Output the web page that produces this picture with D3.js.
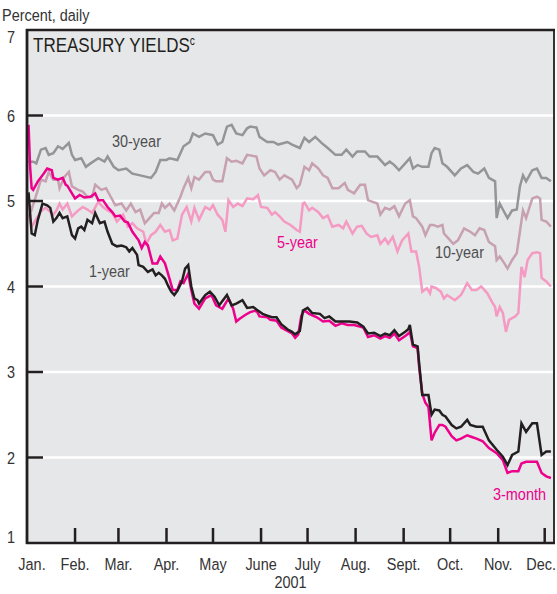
<!DOCTYPE html>
<html lang="en">
<head>
  <meta charset="UTF-8">
  <title>Treasury Yields 2001</title>
  <style>
    body {
      margin: 0;
      padding: 0;
      background-color: #ffffff;
    }

    svg text {
      font-family: "Liberation Sans", Arial, Helvetica, sans-serif;
      fill: #333333;
    }
  </style>
</head>
<body>

<svg width="557" height="594"></svg>

<script src="https://d3js.org/d3.v7.min.js"></script>
<script>
  const width = 557, height = 594;

  // Axis labels
  const monthLabels = ["Jan.", "Feb.", "Mar.", "Apr.", "May", "June", "July", "Aug.", "Sept.", "Oct.", "Nov.", "Dec."];
  const yTicks = [1, 2, 3, 4, 5, 6, 7];

  // Daily yields, percent
  const thirtyYear = [
    ["01-02",5.46],["01-05",5.46],["01-07",5.44],["01-10",5.60],["01-13",5.62],["01-15",5.54],["01-18",5.56],["01-21",5.64],["01-24",5.61],["01-28",5.68],["01-30",5.54],
    ["02-01",5.48],["02-05",5.50],["02-08",5.40],["02-11",5.44],["02-16",5.50],["02-20",5.46],["02-22",5.52],["02-26",5.40],
    ["03-01",5.36],["03-06",5.38],["03-10",5.32],["03-15",5.30],["03-22",5.27],["03-25",5.34],["03-28",5.48],
    ["04-01",5.48],["04-03",5.50],["04-08",5.48],["04-12",5.64],["04-16",5.69],["04-18",5.79],["04-22",5.75],["04-26",5.79],
    ["05-01",5.77],["05-04",5.66],["05-07",5.69],["05-10",5.87],["05-13",5.89],["05-16",5.79],["05-20",5.77],["05-23",5.85],["05-25",5.87],["05-29",5.86],["05-31",5.75],
    ["06-05",5.69],["06-09",5.69],["06-12",5.66],["06-18",5.69],["06-21",5.66],["06-26",5.62],["06-29",5.74],
    ["07-02",5.69],["07-06",5.75],["07-10",5.68],["07-14",5.62],["07-19",5.54],["07-23",5.54],["07-26",5.60],["07-30",5.52],
    ["08-02",5.58],["08-07",5.58],["08-10",5.52],["08-15",5.52],["08-18",5.46],["08-20",5.42],["08-23",5.46],["08-26",5.42],["08-29",5.36],
    ["09-02",5.44],["09-05",5.50],["09-07",5.38],["09-10",5.42],["09-13",5.40],["09-17",5.40],["09-19",5.56],["09-21",5.62],["09-24",5.60],["09-26",5.44],["09-29",5.40],
    ["10-04",5.30],["10-08",5.38],["10-12",5.42],["10-16",5.34],["10-19",5.32],["10-23",5.38],["10-26",5.27],["10-30",5.23],["10-31",4.80],
    ["11-02",4.97],["11-04",4.90],["11-07",4.80],["11-10",4.89],["11-13",4.90],["11-15",5.17],["11-17",5.30],["11-19",5.23],["11-23",5.36],["11-26",5.38],["11-29",5.27],
    ["12-02",5.27],["12-05",5.23]
  ];

  const tenYear = [
    ["01-02",4.97],["01-04",4.90],["01-08",5.13],["01-10",5.25],["01-13",5.23],["01-15",5.34],["01-18",5.25],["01-21",5.25],["01-22",5.15],["01-25",5.28],["01-28",5.34],["01-30",5.17],
    ["02-03",5.13],["02-06",5.11],["02-09",5.05],["02-12",5.05],["02-14",5.19],["02-18",5.13],["02-21",5.15],["02-24",5.05],["02-27",4.95],
    ["03-03",4.97],["03-06",4.89],["03-09",4.97],["03-12",4.87],["03-15",4.90],["03-18",4.74],["03-21",4.80],["03-24",4.86],["03-27",4.86],["03-29",4.97],["03-31",4.92],
    ["04-03",4.97],["04-06",4.89],["04-10",5.05],["04-12",5.15],["04-15",5.27],["04-17",5.15],["04-19",5.28],["04-22",5.25],["04-26",5.34],["04-29",5.34],
    ["05-01",5.25],["05-03",5.23],["05-07",5.23],["05-10",5.50],["05-13",5.46],["05-16",5.47],["05-20",5.44],["05-23",5.54],["05-29",5.52],["05-31",5.38],
    ["06-03",5.30],["06-07",5.36],["06-10",5.34],["06-13",5.25],["06-16",5.30],["06-21",5.25],["06-24",5.15],["06-26",5.19],["06-29",5.40],
    ["07-02",5.36],["07-04",5.44],["07-08",5.38],["07-11",5.30],["07-14",5.27],["07-17",5.15],["07-21",5.15],["07-25",5.21],["07-27",5.13],["07-31",5.09],
    ["08-04",5.19],["08-07",5.19],["08-09",5.01],["08-12",4.99],["08-15",4.97],["08-17",4.84],["08-20",4.92],["08-23",4.90],["08-26",4.94],["08-29",4.82],
    ["09-02",4.97],["09-05",5.01],["09-07",4.82],["09-09",4.80],["09-13",4.70],["09-15",4.60],["09-18",4.72],["09-20",4.72],["09-23",4.70],["09-26",4.72],["09-27",4.62],["09-29",4.58],
    ["10-03",4.50],["10-06",4.54],["10-10",4.68],["10-14",4.64],["10-17",4.60],["10-20",4.68],["10-23",4.66],["10-26",4.52],["10-30",4.47],["10-31",4.31],
    ["11-02",4.35],["11-05",4.27],["11-07",4.21],["11-10",4.31],["11-13",4.39],["11-15",4.64],["11-17",4.89],["11-19",4.80],["11-23",5.03],["11-26",5.05],["11-28",5.03],["11-29",4.78],
    ["12-02",4.76],["12-05",4.70]
  ];

  const fiveYear = [
    ["01-02",4.85],["01-04",4.70],["01-06",4.76],["01-10",4.88],["01-13",4.92],["01-18",4.84],["01-20",4.89],["01-22",4.97],["01-24",4.90],["01-27",4.97],["01-30",4.82],
    ["02-03",4.89],["02-06",4.93],["02-09",4.90],["02-12",4.86],["02-16",4.99],["02-19",4.93],["02-22",4.89],["02-25",4.86],["02-28",4.76],
    ["03-04",4.84],["03-07",4.70],["03-10",4.74],["03-13",4.68],["03-17",4.64],["03-19",4.50],["03-22",4.60],["03-25",4.64],["03-28",4.72],["03-31",4.64],
    ["04-03",4.66],["04-05",4.54],["04-08",4.56],["04-11",4.84],["04-14",4.93],["04-17",4.76],["04-19",4.92],["04-22",4.78],["04-26",4.93],["04-29",4.90],
    ["05-01",4.95],["05-04",4.84],["05-07",4.78],["05-09",4.64],["05-11",5.01],["05-14",4.93],["05-17",4.97],["05-20",4.94],["05-23",5.03],["05-27",5.02],["05-30",5.07],
    ["06-01",4.93],["06-05",4.92],["06-08",4.84],["06-10",4.87],["06-13",4.82],["06-16",4.76],["06-20",4.72],["06-24",4.66],["06-26",4.64],["06-28",4.97],["06-29",4.98],
    ["07-02",4.89],["07-04",4.92],["07-08",4.87],["07-11",4.80],["07-14",4.83],["07-17",4.70],["07-21",4.72],["07-24",4.68],["07-26",4.76],["07-30",4.62],
    ["08-02",4.70],["08-05",4.71],["08-08",4.62],["08-11",4.58],["08-15",4.60],["08-17",4.50],["08-20",4.56],["08-22",4.50],["08-25",4.58],["08-28",4.41],["08-31",4.54],
    ["09-04",4.62],["09-06",4.41],["09-09",4.41],["09-11",4.23],["09-13",3.94],["09-16",3.98],["09-18",3.92],["09-19",4.00],["09-22",3.98],["09-25",3.94],["09-27",3.86],["09-29",3.90],
    ["10-04",3.84],["10-08",3.90],["10-12",4.04],["10-15",3.96],["10-18",3.96],["10-21",4.00],["10-25",3.92],["10-28",3.82],["10-30",3.76],["10-31",3.65],
    ["11-02",3.76],["11-04",3.69],["11-06",3.47],["11-08",3.61],["11-12",3.65],["11-14",3.69],["11-16",4.23],["11-18",4.11],["11-20",4.31],["11-23",4.39],["11-26",4.40],["11-28",4.39],["11-29",4.10],
    ["12-02",4.06],["12-05",4.00]
  ];

  const threeMonth = [
    ["01-02",5.89],["01-03",5.40],["01-04",5.15],["01-05",5.13],["01-08",5.23],["01-11",5.30],["01-14",5.38],["01-17",5.36],["01-18",5.27],["01-21",5.25],["01-24",5.27],["01-26",5.19],["01-27",5.18],["01-30",5.09],
    ["02-01",5.03],["02-04",5.07],["02-07",5.04],["02-11",5.05],["02-14",5.09],["02-16",5.01],["02-19",5.01],["02-22",4.93],["02-25",4.87],["02-27",4.82],
    ["03-02",4.83],["03-05",4.76],["03-07",4.75],["03-10",4.64],["03-14",4.54],["03-16",4.45],["03-18",4.52],["03-20",4.48],["03-23",4.27],["03-26",4.27],["03-28",4.35],["03-31",4.27],
    ["04-02",4.15],["04-05",3.96],["04-08",3.96],["04-10",4.06],["04-12",4.04],["04-15",4.15],["04-17",3.96],["04-19",3.80],["04-22",3.74],["04-26",3.86],["04-30",3.90],
    ["05-03",3.78],["05-07",3.74],["05-11",3.86],["05-14",3.74],["05-16",3.59],["05-18",3.62],["05-22",3.67],["05-25",3.70],["05-29",3.72],["05-31",3.65],
    ["06-05",3.64],["06-07",3.61],["06-11",3.60],["06-14",3.52],["06-18",3.48],["06-21",3.45],["06-23",3.40],["06-25",3.44],["06-27",3.66],["06-29",3.72],
    ["07-02",3.68],["07-07",3.64],["07-11",3.59],["07-15",3.60],["07-19",3.54],["07-23",3.57],["07-27",3.55],["07-31",3.55],
    ["08-06",3.52],["08-09",3.41],["08-13",3.43],["08-17",3.39],["08-20",3.42],["08-23",3.40],["08-26",3.45],["08-29",3.37],
    ["09-02",3.42],["09-04",3.45],["09-05",3.47],["09-07",3.30],["09-10",3.28],["09-11",3.06],["09-13",2.75],["09-15",2.64],["09-17",2.59],["09-19",2.20],["09-21",2.29],["09-24",2.38],["09-26",2.38],["09-28",2.36],
    ["10-02",2.25],["10-05",2.20],["10-08",2.22],["10-12",2.26],["10-15",2.24],["10-18",2.22],["10-22",2.19],["10-26",2.11],["10-31",2.05],
    ["11-04",1.97],["11-07",1.82],["11-10",1.84],["11-14",1.84],["11-16",1.93],["11-19",1.95],["11-23",1.95],["11-26",1.95],["11-29",1.82],
    ["12-02",1.78],["12-05",1.76]
  ];

  const oneYear = [
    ["01-02",5.10],["01-04",4.62],["01-06",4.60],["01-08",4.78],["01-11",4.97],["01-14",4.95],["01-16",4.92],["01-18",4.76],["01-20",4.80],["01-22",4.86],["01-24",4.80],["01-27",4.82],["01-30",4.60],
    ["02-01",4.56],["02-03",4.68],["02-05",4.70],["02-07",4.66],["02-09",4.78],["02-12",4.74],["02-14",4.86],["02-17",4.74],["02-20",4.76],["02-22",4.64],["02-25",4.50],["02-28",4.47],
    ["03-03",4.48],["03-06",4.46],["03-08",4.41],["03-10",4.45],["03-13",4.37],["03-14",4.25],["03-17",4.23],["03-20",4.17],["03-23",4.20],["03-25",4.13],["03-27",4.16],["03-29",4.13],["03-31",4.09],
    ["04-02",4.01],["04-04",3.94],["04-06",3.90],["04-08",3.95],["04-11",4.06],["04-13",4.21],["04-15",4.25],["04-17",4.00],["04-19",3.86],["04-21",3.84],["04-22",3.80],["04-26",3.90],["04-29",3.94],
    ["05-02",3.88],["05-05",3.78],["05-10",3.90],["05-13",3.78],["05-16",3.80],["05-20",3.84],["05-23",3.75],["05-27",3.76],["05-29",3.73],
    ["06-02",3.68],["06-05",3.66],["06-08",3.64],["06-11",3.64],["06-14",3.56],["06-18",3.50],["06-21",3.47],["06-23",3.44],["06-26",3.48],["06-28",3.72],
    ["07-01",3.75],["07-04",3.69],["07-09",3.68],["07-12",3.63],["07-15",3.65],["07-19",3.59],["07-23",3.59],["07-28",3.59],
    ["08-02",3.58],["08-06",3.53],["08-09",3.45],["08-13",3.46],["08-17",3.42],["08-20",3.45],["08-23",3.43],["08-26",3.49],["08-29",3.42],
    ["09-02",3.47],["09-04",3.50],["09-05",3.55],["09-07",3.32],["09-10",3.30],["09-11",3.10],["09-13",2.73],["09-17",2.73],["09-19",2.50],["09-21",2.56],["09-24",2.55],["09-26",2.50],["09-28",2.48],
    ["10-02",2.38],["10-05",2.34],["10-08",2.36],["10-12",2.44],["10-14",2.38],["10-18",2.36],["10-22",2.36],["10-26",2.20],["10-31",2.09],
    ["11-04",2.01],["11-07",1.91],["11-10",2.03],["11-14",2.07],["11-16",2.40],["11-19",2.30],["11-23",2.40],["11-26",2.40],["11-29",2.03],
    ["12-02",2.07],["12-05",2.07]
  ];

  const parseDay = s => {
    const [m, d] = s.split("-").map(Number);
    return new Date(2001, m - 1, d);
  };

  const series = [
    { name: "30-year", data: thirtyYear, color: "#939598" },
    { name: "10-year", data: tenYear, color: "#c7a0b1" },
    { name: "5-year", data: fiveYear, color: "#f59ac3" },
    { name: "3-month", data: threeMonth, color: "#ec008c" },
    { name: "1-year", data: oneYear, color: "#231f20" }
  ];

  const plotLeft = 27, plotRight = 554, plotTop = 30, plotBottom = 543;
  const squeeze = 0.85; // condensed look of the original type

  const x = d3.scaleTime()
    .domain([new Date(2001, 0, 1), new Date(2001, 11, 7)])
    .range([plotLeft, plotRight]);

  const y = d3.scaleLinear()
    .domain([1, 7])
    .range([plotBottom, plotTop]);

  const svg = d3.select("svg");

  // condensed text helper
  function addText(px, py, str, size, anchor, color) {
    return svg.append("text")
      .attr("transform", `translate(${px},${py}) scale(${squeeze},1)`)
      .attr("text-anchor", anchor || "start")
      .attr("font-size", size)
      .style("fill", color || "#333333")
      .text(str);
  }

  // panel
  svg.append("rect")
    .attr("x", plotLeft).attr("y", plotTop)
    .attr("width", plotRight - plotLeft).attr("height", plotBottom - plotTop)
    .attr("fill", "#e6e7e8");

  // gridlines
  svg.selectAll(".grid")
    .data(yTicks.filter(v => v > 1 && v < 7))
    .enter().append("line")
    .attr("x1", plotLeft).attr("x2", plotRight)
    .attr("y1", d => y(d)).attr("y2", d => y(d))
    .attr("stroke", "#ffffff")
    .attr("stroke-width", 2.5);

  // lines
  const line = d3.line()
    .x(d => x(parseDay(d[0])))
    .y(d => y(d[1]));

  svg.selectAll(".series")
    .data(series)
    .enter().append("path")
    .attr("d", d => line(d.data))
    .attr("fill", "none")
    .attr("stroke", d => d.color)
    .attr("stroke-width", 2.5)
    .attr("stroke-linejoin", "miter");

  // frame
  svg.append("line").attr("x1", plotRight).attr("x2", plotRight).attr("y1", plotTop).attr("y2", plotBottom)
    .attr("stroke", "#333333").attr("stroke-width", 2);
  svg.append("line").attr("x1", plotLeft - 1).attr("x2", plotRight + 1).attr("y1", plotTop).attr("y2", plotTop)
    .attr("stroke", "#231f20").attr("stroke-width", 2.5);
  svg.append("line").attr("x1", plotLeft - 1).attr("x2", plotRight + 1).attr("y1", plotBottom).attr("y2", plotBottom)
    .attr("stroke", "#231f20").attr("stroke-width", 2.5);
  svg.append("line").attr("x1", plotLeft).attr("x2", plotLeft).attr("y1", plotTop - 1).attr("y2", plotBottom + 1)
    .attr("stroke", "#231f20").attr("stroke-width", 2.8);

  // y ticks and labels
  svg.selectAll(".ytick")
    .data(yTicks.filter(v => v > 1 && v < 7))
    .enter().append("line")
    .attr("x1", plotLeft).attr("x2", plotLeft + 16)
    .attr("y1", d => y(d)).attr("y2", d => y(d))
    .attr("stroke", "#231f20")
    .attr("stroke-width", 2.5);

  yTicks.forEach(v => {
    const ly = v === 7 ? y(v) + 13 : v === 1 ? y(v) : y(v) + 6;
    addText(15, ly, v, 17, "end");
  });

  // x ticks and labels
  const months = d3.timeMonth.range(new Date(2001, 0, 1), new Date(2001, 11, 2));

  svg.selectAll(".xtick")
    .data(months.slice(1))
    .enter().append("line")
    .attr("x1", d => x(d)).attr("x2", d => x(d))
    .attr("y1", plotBottom - 15).attr("y2", plotBottom)
    .attr("stroke", "#231f20")
    .attr("stroke-width", 2.5);

  months.forEach((m, i) => {
    if (i === 0) addText(x(m) + 5, 570, monthLabels[i], 17, "middle");
    else if (i === months.length - 1) addText(556, 570, monthLabels[i], 17, "end");
    else addText(x(m), 570, monthLabels[i], 17, "middle");
  });

  addText((plotLeft + plotRight) / 2, 588, "2001", 17, "middle");
  addText(2, 21, "Percent, daily", 17, "start");

  // panel title
  const title = addText(33, 52, "TREASURY YIELDS", 20, "start", "#231f20");
  title.append("tspan")
    .attr("dy", -7)
    .attr("font-size", 12)
    .text("c");

  // series labels
  const seriesLabels = [
    { text: "30-year", x: 112, y: 147, color: "#4d4d4f" },
    { text: "1-year", x: 89, y: 277, color: "#4d4d4f" },
    { text: "5-year", x: 277, y: 248, color: "#ec008c" },
    { text: "10-year", x: 435, y: 258, color: "#4d4d4f" },
    { text: "3-month", x: 493, y: 500, color: "#ec008c" }
  ];

  seriesLabels.forEach(d => addText(d.x, d.y, d.text, 17, "start", d.color));
</script>

</body>
</html>
